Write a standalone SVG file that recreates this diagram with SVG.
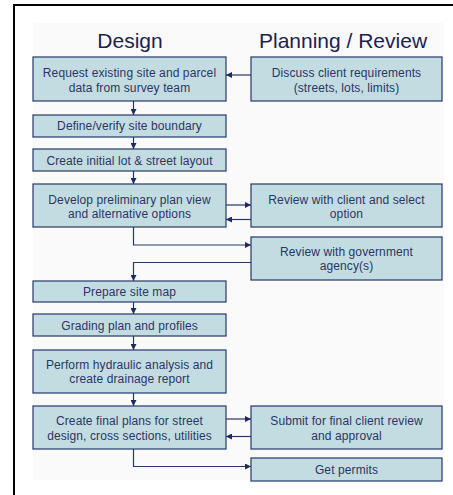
<svg xmlns="http://www.w3.org/2000/svg" width="453" height="495" viewBox="0 0 453 495">
<defs>
<style>
.box{fill:#c3dce1;stroke:#27376a;stroke-width:1.2}
.t{font-family:"Liberation Sans",Arial,sans-serif;font-size:12px;fill:#2b3566;text-anchor:middle;letter-spacing:0.1px}
.h{font-family:"Liberation Sans",Arial,sans-serif;font-size:21px;fill:#1c2250;text-anchor:middle}
.c{fill:none;stroke:#27376a;stroke-width:1.2}
</style>
<marker id="ah" viewBox="0 0 8 8" refX="8" refY="4" markerWidth="6" markerHeight="6" orient="auto" markerUnits="userSpaceOnUse">
<path d="M0,0 L8,4 L0,8 Z" fill="#1c2a5e"/>
</marker>
</defs>
<rect x="0" y="0" width="453" height="495" fill="#ffffff"/>
<rect x="14" y="5" width="460" height="500" fill="#ffffff" stroke="#000000" stroke-width="2"/>
<rect x="33" y="23" width="411" height="457" fill="#fafafa"/>
<text class="h" x="130" y="48">Design</text>
<text class="h" x="343" y="48">Planning / Review</text>
<g id="connectors">
<path class="c" d="M251,75 H226" marker-end="url(#ah)"/>
<path class="c" d="M133.5,101 V115" marker-end="url(#ah)"/>
<path class="c" d="M133.5,137 V149" marker-end="url(#ah)"/>
<path class="c" d="M133.5,171 V184" marker-end="url(#ah)"/>
<path class="c" d="M226,205 H251" marker-end="url(#ah)"/>
<path class="c" d="M251,219.5 H226" marker-end="url(#ah)"/>
<path class="c" d="M133.5,227 V245 H251" marker-end="url(#ah)"/>
<path class="c" d="M251,262.5 H133.5 V281" marker-end="url(#ah)"/>
<path class="c" d="M133.5,302 V314" marker-end="url(#ah)"/>
<path class="c" d="M133.5,336 V350" marker-end="url(#ah)"/>
<path class="c" d="M133.5,393 V406" marker-end="url(#ah)"/>
<path class="c" d="M226,419 H251" marker-end="url(#ah)"/>
<path class="c" d="M251,436.5 H226" marker-end="url(#ah)"/>
<path class="c" d="M133.5,449 V466.5 H251" marker-end="url(#ah)"/>
</g>
<g id="n-request"><rect class="box" x="33" y="57" width="193" height="44"/><text class="t" x="129.5" y="77">Request existing site and parcel</text><text class="t" x="129.5" y="92">data from survey team</text></g>
<g id="n-define"><rect class="box" x="33" y="115" width="193" height="22"/><text class="t" x="129.5" y="130">Define/verify site boundary</text></g>
<g id="n-initial"><rect class="box" x="33" y="149" width="193" height="22"/><text class="t" x="129.5" y="164.5">Create initial lot &amp; street layout</text></g>
<g id="n-develop"><rect class="box" x="33" y="184" width="193" height="43"/><text class="t" x="129.5" y="203.5">Develop preliminary plan view</text><text class="t" x="129.5" y="218">and alternative options</text></g>
<g id="n-prepare"><rect class="box" x="33" y="281" width="193" height="21"/><text class="t" x="129.5" y="296">Prepare site map</text></g>
<g id="n-grading"><rect class="box" x="33" y="314" width="193" height="22"/><text class="t" x="129.5" y="329.5">Grading plan and profiles</text></g>
<g id="n-hydraulic"><rect class="box" x="33" y="350" width="193" height="43"/><text class="t" x="129.5" y="368.5">Perform hydraulic analysis and</text><text class="t" x="129.5" y="383">create drainage report</text></g>
<g id="n-final"><rect class="box" x="33" y="406" width="193" height="43"/><text class="t" x="129.5" y="425">Create final plans for street</text><text class="t" x="129.5" y="439.5">design, cross sections, utilities</text></g>
<g id="n-discuss"><rect class="box" x="251" y="57" width="191" height="44"/><text class="t" x="346.5" y="77">Discuss client requirements</text><text class="t" x="346.5" y="92">(streets, lots, limits)</text></g>
<g id="n-client"><rect class="box" x="251" y="184" width="191" height="43"/><text class="t" x="346.5" y="203.5">Review with client and select</text><text class="t" x="346.5" y="218">option</text></g>
<g id="n-gov"><rect class="box" x="251" y="237" width="191" height="43"/><text class="t" x="346.5" y="255.5">Review with government</text><text class="t" x="346.5" y="270">agency(s)</text></g>
<g id="n-submit"><rect class="box" x="251" y="406" width="191" height="43"/><text class="t" x="346.5" y="425">Submit for final client review</text><text class="t" x="346.5" y="439.5">and approval</text></g>
<g id="n-permits"><rect class="box" x="251" y="458" width="191" height="23"/><text class="t" x="346.5" y="474">Get permits</text></g>
</svg>
